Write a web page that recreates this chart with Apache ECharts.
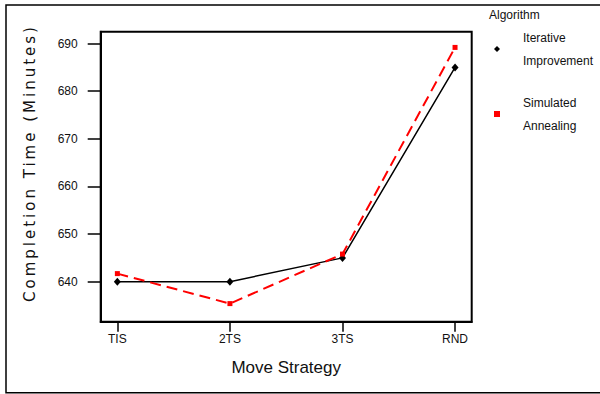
<!DOCTYPE html>
<html>
<head>
<meta charset="utf-8">
<script src="https://cdn.jsdelivr.net/npm/echarts@6/dist/echarts.min.js"></script>
<style>
html,body{margin:0;padding:0;background:#fff;}
#chart{width:600px;height:394px;}
svg text[style*="DejaVu"]{letter-spacing:3px;}
</style>
</head>
<body>
<div id="chart"></div>
<script>
const categories = ['TIS', '2TS', '3TS', 'RND'];
const iterative = [640, 640, 645, 685];
const annealing = [641.7, 635.4, 645.8, 689.2];
const yTicks = [640, 650, 660, 670, 680, 690];
const xPositions = [1, 2, 3, 4];
const seriesNames = ['Iterative\nImprovement', 'Simulated\nAnnealing'];

const font = 'Arial';
const chart = echarts.init(document.getElementById('chart'), null, {renderer: 'svg'});
const toPts = vals => xPositions.map((x, i) => [x, vals[i]]);

chart.setOption({
  animation: false,
  backgroundColor: '#fff',
  grid: {left: 100.7, right: 128.3, top: 31.7, bottom: 72.3, show: true, borderColor: '#000', borderWidth: 2},
  xAxis: {
    type: 'value', min: 0.852, max: 4.148,
    name: 'Move Strategy', nameLocation: 'middle', nameGap: 37,
    nameTextStyle: {fontFamily: font, fontSize: 17, color: '#111'},
    axisLine: {show: true, lineStyle: {color: '#000', width: 2}},
    axisTick: {show: true, length: 10, inside: false, customValues: xPositions, lineStyle: {color: '#000', width: 1.5}},
    axisLabel: {customValues: xPositions, margin: 11, fontFamily: font, fontSize: 12, color: '#111',
      formatter: v => categories[Math.round(v) - 1]},
    splitLine: {show: false}
  },
  yAxis: {
    type: 'value', min: 631.6, max: 692.5,
    axisLine: {show: true, lineStyle: {color: '#000', width: 2}},
    axisTick: {show: true, length: 13, inside: false, customValues: yTicks, lineStyle: {color: '#000', width: 1.5}},
    axisLabel: {customValues: yTicks, margin: 23, fontFamily: font, fontSize: 12, color: '#111'},
    splitLine: {show: false}
  },
  legend: {
    orient: 'vertical', left: 489, top: 21, itemWidth: 6, itemHeight: 6, itemGap: 19,
    textStyle: {fontFamily: font, fontSize: 12, color: '#111', lineHeight: 23, padding: [0, 0, 0, 18]},
    data: [
      {name: seriesNames[0], icon: 'diamond', itemStyle: {color: '#000'}},
      {name: seriesNames[1], icon: 'rect', itemStyle: {color: '#ff0000'}}
    ]
  },
  graphic: [
    {type: 'rect', shape: {x: 6, y: 5, width: 620, height: 387.7}, style: {fill: 'none', stroke: '#000', lineWidth: 1.5}, silent: true},
    {type: 'text', x: 489, y: 15, style: {text: 'Algorithm', fontFamily: font, fontSize: 12, fill: '#111', textAlign: 'left', textVerticalAlign: 'middle'}},
    {type: 'text', x: 30, y: 163, rotation: Math.PI / 2,
      style: {text: 'Completion Time (Minutes)', fontFamily: 'DejaVu Sans', fontSize: 15, fill: '#111', textAlign: 'center', textVerticalAlign: 'middle'}}
  ],
  series: [
    {name: seriesNames[0], type: 'line', data: toPts(iterative), symbol: 'diamond', symbolSize: [7, 8],
      itemStyle: {color: '#000'}, lineStyle: {color: '#000', width: 1.5}, z: 2},
    {name: seriesNames[1], type: 'line', data: toPts(annealing), symbol: 'rect', symbolSize: 5,
      itemStyle: {color: '#ff0000'}, lineStyle: {color: '#ff0000', width: 2, type: [11, 6]}, z: 3}
  ]
});
</script>
</body>
</html>
